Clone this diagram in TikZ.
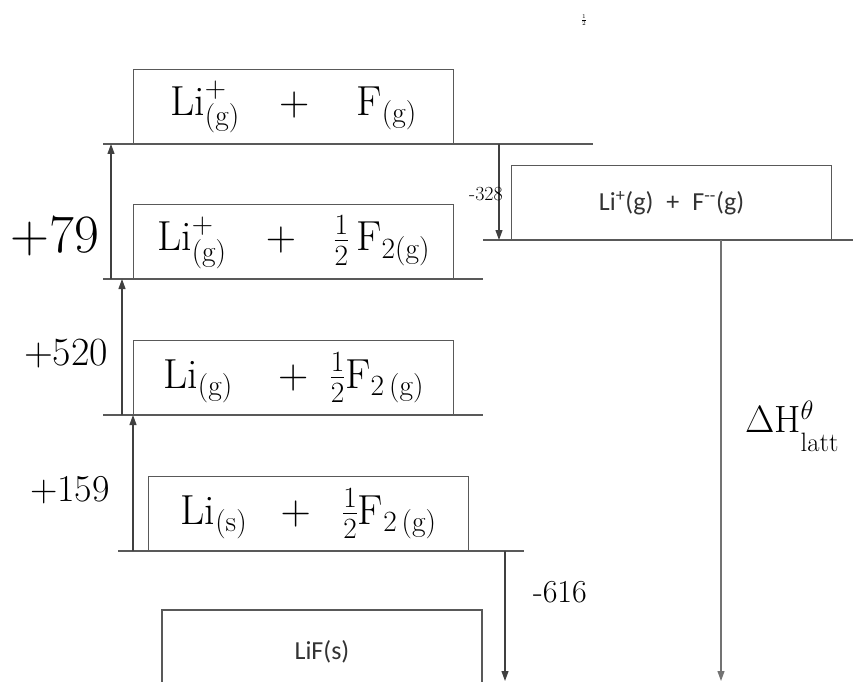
\RequirePackage{fix-cm}
\documentclass[tikz,border=0pt]{standalone}
\usepackage{amsmath}
\usepackage{fontspec}
\newfontfamily\typedfont{Carlito}
\usetikzlibrary{arrows.meta}

\begin{document}
\begin{tikzpicture}[x=1pt,y=-1pt]
  \useasboundingbox (0,0) rectangle (854,682);
  \tikzset{
    box/.style={draw=black!65,line width=1.1pt,minimum width=320pt,minimum height=75pt,inner sep=0pt,anchor=north west},
    level/.style={draw=black!65,line width=1.3pt},
    jump/.style={draw=black!75,line width=1.1pt,-{Triangle[length=10pt,width=7pt]}},
    hand/.style={font=\fontsize{42}{46}\selectfont},
    typed/.style={font=\typedfont\fontsize{26}{30}\selectfont,text=black!80}
  }
  % levels of the cycle
  \draw[level] (103,144) -- (593,144);
  \draw[level] (103,279) -- (483,279);
  \draw[level] (483,240) -- (853,240);
  \draw[level] (103,415) -- (483,415);
  \draw[level] (118,551) -- (524,551);
  % boxes
  \node[box,hand] (ions) at (133,69) {$\mathrm{Li}^{+}_{\mathrm{(g)}}\hspace{30pt}+\hspace{38pt}\mathrm{F}_{\mathrm{(g)}}$};
  \node[box,hand] (atomF) at (133,204) {$\mathrm{Li}^{+}_{\mathrm{(g)}}\hspace{30pt}+\hspace{28pt}\tfrac{1}{2}\,\mathrm{F}_{\mathrm{2(g)}}$};
  \node[box,hand] (gasLi) at (133,340) {$\mathrm{Li}_{\mathrm{(g)}}\hspace{36pt}+\hspace{12pt}\tfrac{1}{2}\mathrm{F}_{\mathrm{2\,(g)}}$};
  \node[box,hand] (solid) at (148,476) {$\mathrm{Li}_{\mathrm{(s)}}\hspace{24pt}+\hspace{22pt}\tfrac{1}{2}\mathrm{F}_{\mathrm{2\,(g)}}$};
  \node[box,typed] (gasIons) at (511,165) {Li\textsuperscript{+}(g)\enspace+\enspace F\textsuperscript{--}(g)};
  \draw[draw=black!65,line width=1.1pt] (162,682) -- (162,610) -- (482,610) -- (482,682);
  \node[typed] (lif) at (322,652) {LiF(s)};
  % ends of the arrows
  \coordinate (s79) at (111,279);   \coordinate (e79) at (111,144);
  \coordinate (s520) at (122,415);  \coordinate (e520) at (122,279);
  \coordinate (s159) at (133,551);  \coordinate (e159) at (133,415);
  \coordinate (s328) at (499,144);  \coordinate (e328) at (499,240);
  \coordinate (s616) at (505,551);  \coordinate (e616) at (505,681);
  \coordinate (slatt) at (721,240); \coordinate (elatt) at (721,681);
  \draw[jump] (s79) -- (e79);
  \draw[jump] (s520) -- (e520);
  \draw[jump] (s159) -- (e159);
  \draw[jump] (s328) -- (e328);
  \draw[jump] (s616) -- (e616);
  \draw[jump,draw=black!55] (slatt) -- (elatt);
  % energy labels
  \node[font=\fontsize{54}{58}\selectfont] (l79) at (55,236) {+79};
  \node[font=\fontsize{40}{44}\selectfont] (l520) at (66,354) {+520};
  \node[font=\fontsize{38}{42}\selectfont] (l159) at (70,490) {+159};
  \node[font=\fontsize{20}{22}\selectfont] (l328) at (486,194) {-328};
  \node[font=\fontsize{32}{36}\selectfont] (l616) at (560,592) {-616};
  \node[font=\fontsize{38}{42}\selectfont] (llatt) at (792,426) {$\Delta\mathrm{H}^{\theta}_{\raisebox{-9pt}{$\scriptstyle\mathrm{latt}$}}$};
  \node[font=\fontsize{9}{10}\selectfont] (half) at (584,20) {$\frac{1}{2}$};
\end{tikzpicture}
\end{document}
